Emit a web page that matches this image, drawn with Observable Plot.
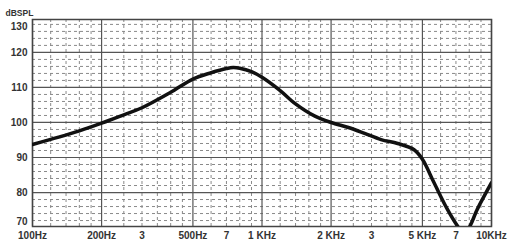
<!DOCTYPE html>
<html><head><meta charset="utf-8">
<script src="https://cdn.jsdelivr.net/npm/d3@7"></script>
<script src="https://cdn.jsdelivr.net/npm/@observablehq/plot@0.6"></script>
<style>body{margin:0;background:#fff}</style>
</head><body><div id="chart"></div>
<script>
const freqs = [100,130,160,200,250,300,400,500,600,700,750,800,900,1000,1200,1400,1700,2000,2400,2800,3300,3900,4600,5000,5600,6400,7100,7500,7900,8700,10000];
const spl   = [93.7,95.8,97.6,99.8,102.2,104.2,108.6,112.4,114.2,115.4,115.7,115.5,114.5,112.9,109.1,105.3,101.8,100.0,98.5,96.9,95.1,94.0,92.2,89.5,83,75.4,70.5,68.5,69.5,75.4,82.8];
const majorX = [100,200,500,1000,2000,5000,10000];
const minorX = [120,140,160,180,250,300,350,400,450,600,700,800,900,1200,1400,1600,1800,2500,3000,3500,4000,4500,6000,7000,8000,9000];
const majorY = [80,90,100,110,120];
const minorY = d3.range(72,130,2).filter(v => v % 10 !== 0);
const xTickVals = [100,200,300,500,700,1000,2000,3000,5000,7000,10000];
const xTickText = ["100Hz","200Hz","3","500Hz","7","1 KHz","2 KHz","3","5 KHz","7","10KHz"];
const yTicks = [80,90,100,110,120];

const data = freqs.map((f,i)=>({f, v: spl[i]}));
const font = "'Liberation Sans', Arial, sans-serif";

const chart = Plot.plot({
  width: 520, height: 250,
  marginLeft: 32, marginRight: 29, marginTop: 19, marginBottom: 24,
  style: {fontFamily: font, fontSize: "10px", color: "#222", background: "#fff"},
  x: {type: "log", domain: [100, 10000], axis: null},
  y: {domain: [70.3, 129.4], axis: null},
  marks: [
    Plot.ruleX(minorX, {stroke: "#8a8a8a", strokeDasharray: "3,3", strokeWidth: 1}),
    Plot.ruleY(minorY, {stroke: "#8a8a8a", strokeDasharray: "3,3", strokeWidth: 1}),
    Plot.ruleX(majorX, {stroke: "#555", strokeWidth: 1.2}),
    Plot.ruleY(majorY, {stroke: "#555", strokeWidth: 1.2}),
    Plot.frame({stroke: "#444", strokeWidth: 1.5}),
    Plot.text(xTickVals, {x: d => d, frameAnchor: "bottom", dy: 12, text: (d,i) => xTickText[i], fontWeight: "bold", fill: "#333"}),
    Plot.axisY(yTicks, {tickSize: 0, tickPadding: 5, fontWeight: "bold", fill: "#333", label: null}),
    Plot.axisY([130], {tickSize: 0, tickPadding: 5, dy: 9, fontWeight: "bold", fill: "#333", label: null}),
    Plot.axisY([70], {tickSize: 0, tickPadding: 5, dy: -6, fontWeight: "bold", fill: "#333", label: null}),
    Plot.text(["dBSPL"], {frameAnchor: "top-left", dx: -27, dy: -10, textAnchor: "start", fontWeight: "bold", fill: "#333", fontSize: 8.5, letterSpacing: "0.8px"}),
    Plot.line(data, {x: "f", y: "v", stroke: "#111", strokeWidth: 3.5, curve: "catmull-rom", clip: true})
  ]
});
document.getElementById("chart").append(chart);
</script></body></html>
